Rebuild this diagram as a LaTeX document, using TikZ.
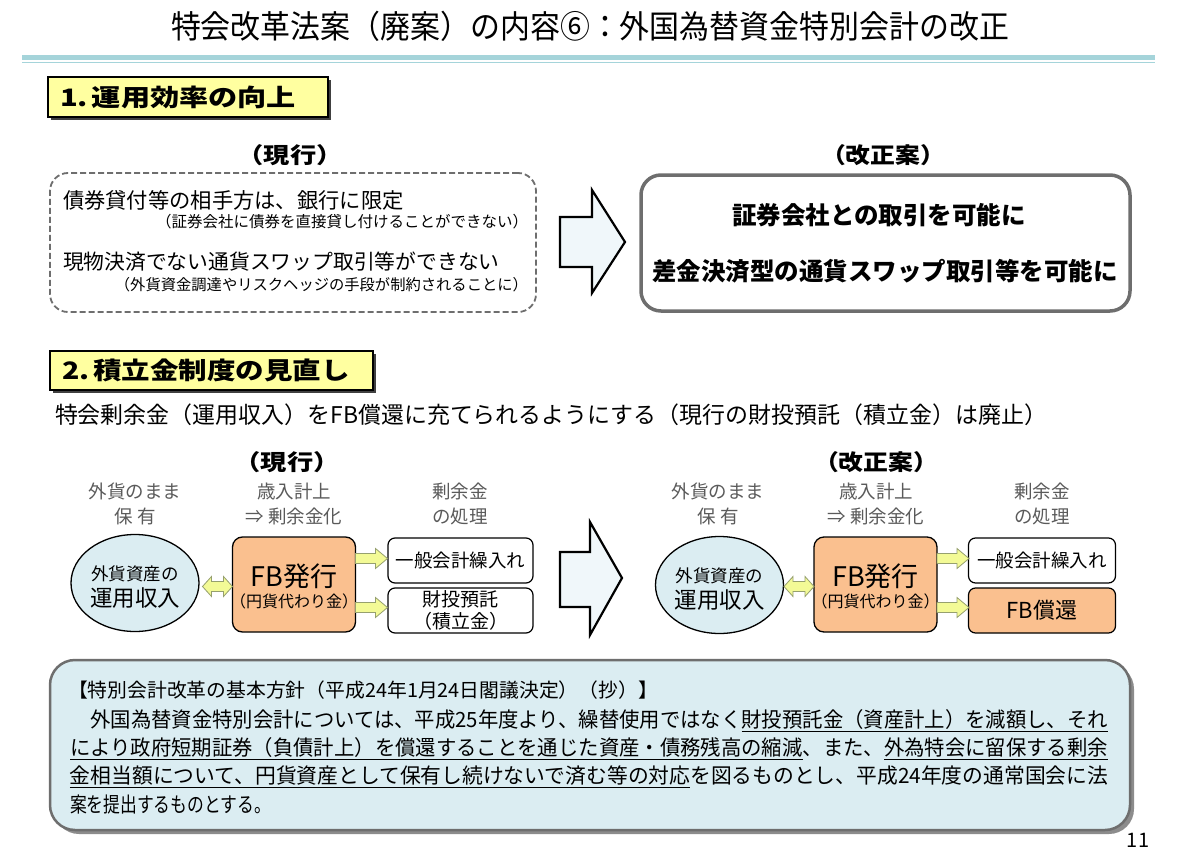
\documentclass[tikz,border=0pt]{standalone}
\usepackage{fontspec}
\usepackage{graphicx}
\setmainfont{Noto Sans CJK JP}
\usetikzlibrary{shapes.geometric,calc}
\newcommand{\fitw}[2]{\resizebox{#1}{\height}{#2}}
\newcommand{\fsz}[1]{\fontsize{#1}{#1}\selectfont}
\newcommand{\yarr}[1]{\draw[yarrow] (#1) +(0,-5) -- +(20,-5) -- +(20,-10) -- +(32,0) -- +(20,10) -- +(20,5) -- +(0,5) -- cycle;}
\newcommand{\ydarr}[1]{\draw[yarrow] (#1) +(0,0) -- +(9,-10) -- +(9,-5) -- +(21,-5) -- +(21,-10) -- +(30,0) -- +(21,10) -- +(21,5) -- +(9,5) -- +(9,10) -- cycle;}
\definecolor{teal1}{RGB}{165,212,218}
\definecolor{hdryel}{RGB}{255,255,160}
\definecolor{orng}{RGB}{250,192,143}
\definecolor{lblue}{RGB}{219,237,242}
\definecolor{arrfill}{RGB}{240,247,250}
\definecolor{yarrfill}{RGB}{243,250,150}
\definecolor{yarrdraw}{RGB}{150,160,110}
\definecolor{bordergray}{RGB}{110,110,110}
\definecolor{txtgray}{RGB}{90,90,90}
\begin{document}
\begin{tikzpicture}[x=1pt,y=-1pt,
  every node/.style={inner sep=0pt, outer sep=0pt},
  hdrbox/.style={draw=black, fill=hdryel, line width=1.2pt, anchor=north west},
  bigarrow/.style={draw=black, fill=arrfill, line width=2.2pt, line join=miter},
  yarrow/.style={draw=yarrdraw, fill=yarrfill, line width=0.8pt},
  ellbox/.style={ellipse, draw=black, fill=lblue, line width=1.3pt},
  fbbox/.style={draw=black, fill=orng, line width=1.3pt, rounded corners=10pt},
  destbox/.style={draw=black, fill=white, line width=1.2pt, rounded corners=7pt, minimum width=145pt, minimum height=45pt},
  colhdr/.style={align=center, text=txtgray, font=\fontsize{18.5}{25}\selectfont}
]
\useasboundingbox (0,0) rectangle (1200,851);
\fill[white] (0,0) rectangle (1200,851);

% title
\node (title) at (590,26) {\fitw{838pt}{\fsz{32}特会改革法案（廃案）の内容⑥：外国為替資金特別会計の改正}};
\fill[teal1] (22,55) rectangle (1155,60);
\draw[teal1, line width=1pt] (22,62.5) -- (1155,62.5);

% section 1 header
\fill[black!75] (51,80) rectangle (331,120);
\node[hdrbox, minimum width=280pt, minimum height=40pt, text width=256pt, align=left] (h1) at (48,77) {\fitw{236pt}{\fsz{24}\bfseries 1.\ 運用効率の向上}};

\node (cur1) at (290,155) {\fitw{105pt}{\fsz{22}\bfseries（現行）}};
\node (new1) at (883,155) {\fitw{124pt}{\fsz{22}\bfseries（改正案）}};

% current box (dashed)
\node[draw=bordergray, dash pattern=on 6pt off 3pt, line width=1.8pt, rounded corners=18pt,
      minimum width=486pt, minimum height=139pt, anchor=north west] (cbox) at (50,173) {};
\node[anchor=west] (c1) at (63,200) {\fsz{21.3}債券貸付等の相手方は、銀行に限定};
\node[anchor=east] (c1s) at (528,222) {\fsz{15.5}（証券会社に債券を直接貸し付けることができない）};
\node[anchor=west] (c2) at (63,262) {\fsz{20.8}現物決済でない通貨スワップ取引等ができない};
\node[anchor=east] (c2s) at (528,285) {\fsz{15.3}（外貨資金調達やリスクヘッジの手段が制約されることに）};

% big arrow 1
\draw[bigarrow] (560,217) -- (592,217) -- (592,190) -- (625,242) -- (592,293) -- (592,267) -- (560,267) -- cycle;

% new box
\node[draw=bordergray, line width=3.5pt, rounded corners=20pt,
      minimum width=489pt, minimum height=136pt, anchor=north west] (nbox) at (641,175) {};
\node (n1) at (879,215) {\fsz{24.5}\bfseries 証券会社との取引を可能に};
\node (n2) at (885,271) {\fsz{24.5}\bfseries 差金決済型の通貨スワップ取引等を可能に};

% section 2 header
\fill[black!75] (53,354) rectangle (376,393);
\node[hdrbox, minimum width=323pt, minimum height=39pt, text width=299pt, align=left] (h2) at (50,351) {\fitw{288pt}{\fsz{24}\bfseries 2.\ 積立金制度の見直し}};

\node[anchor=west] (s2) at (55,415) {\fitw{992pt}{\fsz{23}特会剰余金（運用収入）をFB償還に充てられるようにする（現行の財投預託（積立金）は廃止）}};

\node (cur2) at (287,462) {\fitw{105pt}{\fsz{22}\bfseries（現行）}};
\node (new2) at (876,462) {\fitw{124pt}{\fsz{22}\bfseries（改正案）}};

% column headers left
\node[colhdr] (ch1) at (135,504) {外貨のまま\\保\ 有};
\node[colhdr] (ch2) at (294,504) {歳入計上\\⇒ 剰余金化};
\node[colhdr] (ch3) at (460,504) {剰余金\\の処理};
% column headers right
\node[colhdr] (ch4) at (718,504) {外貨のまま\\保\ 有};
\node[colhdr] (ch5) at (876,504) {歳入計上\\⇒ 剰余金化};
\node[colhdr] (ch6) at (1042,504) {剰余金\\の処理};

% left flow
\node[ellbox, minimum width=128pt, minimum height=97pt] (e1) at (135,583) {};
\node (e1a) at ($(e1)+(0,-9)$) {\fsz{17.5}外貨資産の};
\node (e1b) at ($(e1)+(0,15)$) {\fsz{22.5}運用収入};
\node[fbbox, minimum width=123pt, minimum height=95pt] (fb1) at (294,584.5) {};
\node (fb1a) at ($(fb1)+(0,-8)$) {\fsz{27}FB発行};
\node (fb1b) at ($(fb1)+(0,17)$) {\fsz{16}（円貨代わり金）};
\node[destbox] (g1) at (460.5,560.5) {\fsz{18.5}一般会計繰入れ};
\node[destbox] (g2) at (460.5,610.5) {};
\node (g2a) at ($(g2)+(0,-11)$) {\fsz{19}財投預託};
\node (g2b) at ($(g2)+(0,11)$) {\fsz{19}（積立金）};

\coordinate (d1) at ($(fb1.west)+(-30,2)$);
\ydarr{d1}
\coordinate (a1) at ($(fb1.east |- g1.west)+(0,-2)$);
\coordinate (a2) at ($(fb1.east |- g2.west)+(0,-3)$);
\yarr{a1}
\yarr{a2}

% big arrow 2
\draw[bigarrow] (560,552) -- (590,552) -- (590,522) -- (622,578) -- (590,635) -- (590,607) -- (560,607) -- cycle;

% right flow
\node[ellbox, minimum width=128pt, minimum height=97pt] (e2) at (719.5,585) {};
\node (e2a) at ($(e2)+(0,-9)$) {\fsz{17.5}外貨資産の};
\node (e2b) at ($(e2)+(0,15)$) {\fsz{22.5}運用収入};
\node[fbbox, minimum width=123pt, minimum height=95pt] (fb2) at (875.5,584.5) {};
\node (fb2a) at ($(fb2)+(0,-8)$) {\fsz{27}FB発行};
\node (fb2b) at ($(fb2)+(0,17)$) {\fsz{16}（円貨代わり金）};
\node[destbox, minimum width=147pt] (g3) at (1042,560.5) {\fsz{18.5}一般会計繰入れ};
\node[destbox, minimum width=147pt, fill=orng] (g4) at (1042,610.5) {\fsz{22}FB償還};

\coordinate (d2) at ($(fb2.west)+(-30,2)$);
\ydarr{d2}
\coordinate (a3) at ($(fb2.east |- g3.west)+(0,-2)$);
\coordinate (a4) at ($(fb2.east |- g4.west)+(0,-3)$);
\yarr{a3}
\yarr{a4}

% bottom box
\fill[black!45, rounded corners=25pt] (54,664) rectangle (1134,834);
\node[draw=bordergray, fill=lblue, line width=2.5pt, rounded corners=25pt,
      minimum width=1080pt, minimum height=170pt, anchor=north west] (bbox) at (50,660) {};
\node[anchor=west] (bh) at (68,690) {\fitw{590pt}{\fsz{19.5}【特別会計改革の基本方針（平成24年1月24日閣議決定）（抄）】}};
\node[anchor=west] (p1) at (70,721) {\fitw{1038pt}{\fsz{21}　外国為替資金特別会計については、平成25年度より、繰替使用ではなく\underline{財投預託金（資産計上）を減額し、それ}}};
\node[anchor=west] (p2) at (70,749) {\fitw{1038pt}{\fsz{21}\underline{により政府短期証券（負債計上）を償還することを通じた資産・債務残高の縮減}、また、\underline{外為特会に留保する剰余}}};
\node[anchor=west] (p3) at (70,777) {\fitw{1038pt}{\fsz{21}\underline{金相当額について、円貨資産として保有し続けないで済む等の対応}を図るものとし、平成24年度の通常国会に法}};
\node[anchor=west] (p4) at (70,805) {\scalebox{0.8}[1]{\fsz{21}案を提出するものとする。}};

\node (pg) at (1138,840) {\fsz{20}11};
\end{tikzpicture}
\end{document}
